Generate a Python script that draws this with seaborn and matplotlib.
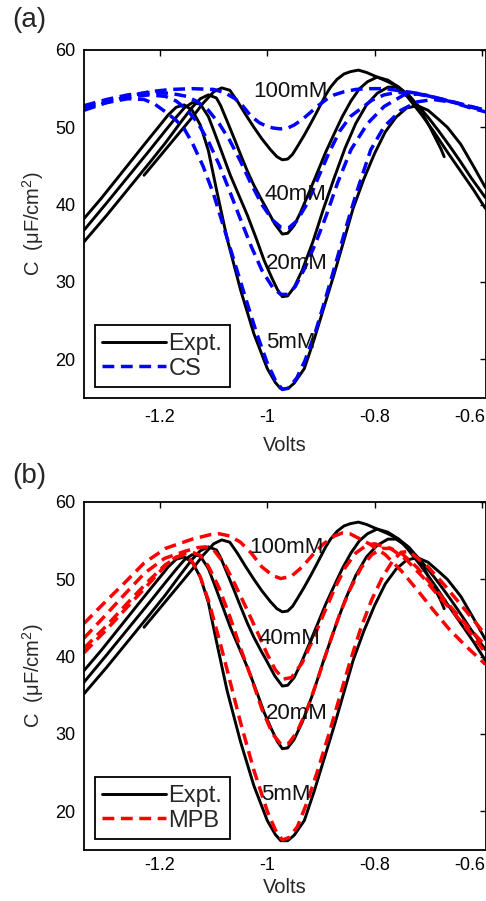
import matplotlib
matplotlib.use("Agg")
import matplotlib.pyplot as plt
import matplotlib.transforms as mtransforms
import seaborn as sns
from matplotlib.lines import Line2D

sns.set_theme(style="white")
plt.rcParams["font.family"] = ["Liberation Sans", "DejaVu Sans"]
plt.rcParams["mathtext.default"] = "regular"

# ---------------- data ----------------
# Experimental curves (same in both panels)
EXPT_5_V = [-1.342, -1.31, -1.28, -1.25, -1.22, -1.20, -1.185, -1.17, -1.155, -1.14, -1.125, -1.11,
            -1.095, -1.075, -1.05, -1.025, -1.0, -0.985, -0.975, -0.962, -0.95, -0.931, -0.913, -0.894,
            -0.875, -0.857, -0.84, -0.82, -0.80, -0.78, -0.76, -0.74, -0.72, -0.70, -0.68, -0.664,
            -0.639, -0.614, -0.593]
EXPT_5_C = [38.2, 40.8, 43.4, 46.0, 48.6, 50.3, 51.6, 52.6, 52.9, 52.2, 50.3, 47.0,
            42.0, 35.6, 29.0, 23.3, 18.8, 17.0, 16.2, 16.2, 16.9, 18.8, 22.5, 26.8,
            31.1, 35.4, 39.5, 43.3, 46.6, 49.4, 51.3, 52.5, 52.8, 52.2, 51.0, 50.0,
            47.8, 44.8, 42.2]

EXPT_20_V = [-1.342, -1.30, -1.26, -1.22, -1.19, -1.17, -1.155, -1.14, -1.125, -1.11, -1.10, -1.085,
             -1.069, -1.053, -1.037, -1.02, -1.006, -0.992, -0.981, -0.972, -0.962, -0.95, -0.935,
             -0.915, -0.895, -0.875, -0.855, -0.835, -0.815, -0.795, -0.775, -0.76, -0.74, -0.72,
             -0.70, -0.68, -0.66, -0.64, -0.62, -0.593]
EXPT_20_C = [36.7, 40.2, 43.6, 47.0, 49.6, 51.3, 52.5, 53.2, 53.0, 51.4, 49.6, 46.8,
             43.8, 41.2, 38.6, 35.5, 32.8, 30.6, 29.0, 28.1, 28.2, 29.3, 31.5,
             35.2, 39.5, 43.5, 47.3, 50.5, 52.9, 54.4, 55.2, 55.2, 54.3, 52.9,
             51.3, 49.5, 47.6, 45.6, 43.5, 40.9]

EXPT_40_V = [-1.342, -1.30, -1.26, -1.22, -1.19, -1.16, -1.14, -1.125, -1.11, -1.095, -1.087, -1.075,
             -1.062, -1.05, -1.037, -1.025, -1.012, -1.0, -0.986, -0.972, -0.962, -0.95, -0.938,
             -0.922, -0.907, -0.891, -0.875, -0.86, -0.844, -0.828, -0.813, -0.795, -0.775, -0.755,
             -0.738, -0.713, -0.688, -0.664, -0.639, -0.616, -0.593]
EXPT_40_C = [35.2, 38.6, 42.0, 45.4, 48.0, 50.8, 52.6, 53.7, 54.2, 53.8, 52.8, 50.8,
             48.6, 46.5, 44.3, 42.5, 40.8, 39.3, 37.5, 36.2, 36.3, 37.3, 39.0,
             41.6, 44.1, 46.8, 49.2, 51.4, 53.4, 55.0, 55.9, 56.5, 56.1, 55.2,
             53.9, 51.7, 49.3, 46.8, 44.3, 42.0, 39.5]

EXPT_100_V = [-1.23, -1.20, -1.17, -1.14, -1.12, -1.10, -1.085, -1.07, -1.056, -1.04, -1.025, -1.01,
              -0.994, -0.982, -0.972, -0.962, -0.953, -0.944, -0.931, -0.919, -0.909, -0.9, -0.891,
              -0.882, -0.87, -0.857, -0.845, -0.83, -0.815, -0.795, -0.775, -0.755, -0.735, -0.715,
              -0.695, -0.676, -0.67]
EXPT_100_C = [43.8, 46.3, 48.8, 51.3, 53.1, 54.6, 55.1, 54.8, 53.4, 51.6, 50.0, 48.5,
              47.1, 46.2, 45.8, 45.9, 46.5, 47.5, 49.0, 50.5, 51.8, 53.0, 54.2,
              55.2, 56.2, 56.9, 57.2, 57.4, 57.1, 56.5, 55.9, 55.2, 54.1, 52.4,
              49.8, 47.2, 46.2]

# CS model curves (panel a)
CS_5_V = [-1.342, -1.30, -1.26, -1.23, -1.21, -1.19, -1.17, -1.155, -1.14, -1.12, -1.10, -1.08,
          -1.06, -1.04, -1.02, -1.0, -0.985, -0.972, -0.96, -0.945, -0.93, -0.91, -0.89, -0.87,
          -0.85, -0.832, -0.807, -0.782, -0.751, -0.72, -0.69, -0.65, -0.62, -0.593]
CS_5_C = [52.4, 53.2, 53.7, 53.6, 53.0, 52.0, 50.9, 49.8, 48.0, 45.0, 41.3, 36.8,
          32.3, 27.8, 23.4, 19.5, 17.3, 16.1, 16.3, 17.6, 19.8, 23.6, 28.2, 33.0,
          37.8, 41.9, 47.1, 50.1, 52.2, 53.3, 53.6, 53.2, 52.6, 52.2]

CS_20_V = [-1.342, -1.30, -1.26, -1.22, -1.19, -1.17, -1.15, -1.13, -1.11, -1.09, -1.07, -1.05,
           -1.03, -1.01, -0.99, -0.975, -0.962, -0.948, -0.93, -0.91, -0.89, -0.869, -0.844,
           -0.813, -0.782, -0.745, -0.72, -0.69, -0.65, -0.61, -0.593]
CS_20_C = [52.6, 53.4, 53.9, 54.2, 54.0, 53.4, 52.3, 50.6, 48.2, 45.2, 41.7, 38.1,
           34.6, 31.5, 29.3, 28.4, 28.4, 29.4, 31.8, 35.0, 38.6, 42.8, 47.1,
           50.5, 52.7, 54.2, 54.3, 53.9, 53.2, 52.5, 52.2]

CS_40_V = [-1.342, -1.30, -1.26, -1.22, -1.18, -1.15, -1.13, -1.11, -1.09, -1.07, -1.05, -1.031,
           -1.01, -0.99, -0.975, -0.96, -0.945, -0.925, -0.905, -0.885, -0.865, -0.845, -0.826,
           -0.805, -0.782, -0.76, -0.73, -0.70, -0.66, -0.62, -0.593]
CS_40_C = [52.8, 53.6, 54.2, 54.5, 54.4, 54.0, 53.3, 52.2, 50.5, 48.3, 45.6, 42.8,
           40.0, 38.0, 37.1, 37.0, 37.9, 40.2, 43.5, 46.7, 49.5, 51.4, 52.4,
           53.5, 54.2, 54.5, 54.5, 54.1, 53.4, 52.7, 52.2]

CS_100_V = [-1.342, -1.30, -1.26, -1.22, -1.18, -1.14, -1.10, -1.08, -1.06, -1.045, -1.031, -1.015,
            -1.0, -0.988, -0.975, -0.962, -0.95, -0.935, -0.92, -0.907, -0.89, -0.875, -0.857,
            -0.835, -0.81, -0.78, -0.75, -0.72, -0.69, -0.657, -0.625, -0.593]
CS_100_C = [52.2, 53.2, 54.0, 54.6, 54.9, 55.0, 54.9, 54.5, 53.7, 52.7, 51.5, 50.6,
            50.1, 49.9, 49.8, 49.9, 50.3, 51.0, 51.9, 52.7, 53.6, 54.2, 54.6,
            54.9, 55.0, 55.0, 54.7, 54.4, 53.9, 53.3, 52.6, 52.0]

# MPB model curves (panel b)
MPB_5_V = [-1.342, -1.30, -1.26, -1.22, -1.19, -1.17, -1.155, -1.14, -1.125, -1.11, -1.09, -1.075,
           -1.05, -1.025, -1.0, -0.985, -0.972, -0.96, -0.944, -0.925, -0.905, -0.885, -0.865,
           -0.845, -0.825, -0.805, -0.785, -0.765, -0.75, -0.735, -0.70, -0.67, -0.64, -0.61, -0.593]
MPB_5_C = [40.5, 43.5, 46.5, 49.5, 51.8, 52.9, 53.1, 52.3, 50.3, 47.3, 42.3, 38.3,
           31.5, 25.3, 20.0, 17.6, 16.3, 16.6, 18.0, 21.3, 25.5, 30.0, 34.8,
           39.5, 43.8, 47.4, 50.3, 52.5, 53.5, 53.6, 51.6, 49.3, 46.8, 44.3, 42.8]

MPB_20_V = [-1.342, -1.30, -1.26, -1.22, -1.19, -1.16, -1.14, -1.125, -1.11, -1.09, -1.07, -1.05,
            -1.03, -1.01, -0.99, -0.975, -0.96, -0.945, -0.925, -0.905, -0.885, -0.865, -0.845,
            -0.825, -0.805, -0.785, -0.77, -0.75, -0.72, -0.69, -0.66, -0.63, -0.593]
MPB_20_C = [41.1, 44.0, 47.0, 49.9, 51.9, 53.2, 53.5, 53.1, 51.7, 48.9, 45.2, 41.1,
            37.3, 33.2, 30.0, 28.7, 28.8, 30.2, 33.3, 37.3, 41.5, 45.5, 48.8,
            51.5, 53.2, 54.0, 54.0, 53.4, 51.5, 49.0, 46.6, 44.2, 41.4]

MPB_40_V = [-1.342, -1.304, -1.267, -1.229, -1.192, -1.155, -1.13, -1.115, -1.10, -1.08, -1.06, -1.04,
            -1.02, -1.0, -0.985, -0.97, -0.955, -0.935, -0.915, -0.895, -0.875, -0.855, -0.835,
            -0.815, -0.80, -0.77, -0.74, -0.71, -0.68, -0.65, -0.62, -0.593]
MPB_40_C = [42.4, 45.2, 48.0, 50.8, 52.7, 53.6, 54.1, 54.2, 53.8, 52.0, 49.3, 46.4,
            43.4, 40.3, 38.3, 37.1, 37.3, 39.2, 42.2, 45.5, 48.7, 51.5, 53.4,
            54.4, 54.6, 54.0, 52.5, 50.3, 47.8, 45.5, 43.0, 40.5]

MPB_100_V = [-1.342, -1.305, -1.267, -1.23, -1.19, -1.14, -1.105, -1.09, -1.07, -1.05, -1.03, -1.01,
             -0.99, -0.975, -0.955, -0.935, -0.915, -0.895, -0.875, -0.86, -0.846, -0.81, -0.78,
             -0.75, -0.72, -0.69, -0.66, -0.63, -0.593]
MPB_100_C = [44.3, 46.9, 49.5, 52.1, 54.0, 55.2, 55.8, 55.9, 55.6, 54.8, 53.4, 51.6,
             50.5, 50.1, 50.4, 51.6, 53.2, 54.6, 55.6, 56.0, 55.9, 54.6, 53.2,
             51.1, 48.6, 46.0, 43.5, 41.4, 39.0]

CONC_LABELS = ["100mM", "40mM", "20mM", "5mM"]
LABEL_POS_A = [(-1.027, 54.6), (-1.006, 41.3), (-1.003, 32.4), (-1.003, 22.2)]
LABEL_POS_B = [(-1.034, 54.1), (-1.016, 42.3), (-1.003, 32.6), (-1.012, 22.2)]
X_TICKS = [-1.2, -1.0, -0.8, -0.6]
X_TICKLABELS = ["-1.2", "-1", "-0.8", "-0.6"]
Y_TICKS = [20, 30, 40, 50, 60]

EXPT = [(EXPT_5_V, EXPT_5_C), (EXPT_20_V, EXPT_20_C), (EXPT_40_V, EXPT_40_C), (EXPT_100_V, EXPT_100_C)]
CS = [(CS_5_V, CS_5_C), (CS_20_V, CS_20_C), (CS_40_V, CS_40_C), (CS_100_V, CS_100_C)]
MPB = [(MPB_5_V, MPB_5_C), (MPB_20_V, MPB_20_C), (MPB_40_V, MPB_40_C), (MPB_100_V, MPB_100_C)]

DASH = (0, (3.4, 1.9))
LW_EXPT = 2.1
LW_MODEL = 2.5

fig = plt.figure(figsize=(4.86, 9.01), dpi=100)
ax_a = fig.add_axes([84 / 486, 1 - 398 / 901, 402 / 486, 348 / 901])
ax_b = fig.add_axes([84 / 486, 1 - 850 / 901, 402 / 486, 348 / 901])


def panel(ax, model, color, model_name, label_pos, tag, tag_y, xpad, xlabelpad):
    for V, C in EXPT:
        sns.lineplot(x=V, y=C, ax=ax, color="black", lw=LW_EXPT, estimator=None,
                     sort=False, legend=False)
    for V, C in model:
        sns.lineplot(x=V, y=C, ax=ax, color=color, lw=LW_MODEL, linestyle=DASH,
                     estimator=None, sort=False, legend=False)
    for txt, (x, y) in zip(CONC_LABELS, label_pos):
        ax.text(x, y, txt, fontsize=16, ha="left", va="center", color="#111111")
    ax.set_xlim(-1.342, -0.592)
    ax.set_ylim(15, 60)
    ax.set_xticks(X_TICKS)
    ax.set_xticklabels(X_TICKLABELS)
    ax.set_yticks(Y_TICKS)
    ax.tick_params(direction="in", top=True, right=True, length=4, width=1.0,
                   labelsize=13, colors="black")
    ax.tick_params(axis="x", pad=xpad)
    ax.tick_params(axis="y", pad=6)
    # keep the last x tick label inside the figure like the reference
    last = ax.get_xticklabels()[-1]
    last.set_transform(last.get_transform() +
                       mtransforms.ScaledTranslation(-12 / 100, 0, fig.dpi_scale_trans))
    for s in ax.spines.values():
        s.set_color("black")
        s.set_linewidth(1.3)
    ax.set_xlabel("Volts", fontsize=14.5, labelpad=xlabelpad)
    ax.set_ylabel("C  (μF/cm$^2$)", fontsize=14.5, labelpad=7)
    handles = [Line2D([], [], color="black", lw=LW_EXPT),
               Line2D([], [], color=color, lw=LW_MODEL, linestyle=DASH)]
    leg = ax.legend(handles, ["Expt.", model_name], loc="lower left", fontsize=17,
                    frameon=True, fancybox=False, edgecolor="black", framealpha=1,
                    handlelength=2.7, handletextpad=0.1, borderpad=0.33,
                    labelspacing=0.1, borderaxespad=0.45)
    leg.get_frame().set_linewidth(1.3)
    fig.text(12 / 486, tag_y, tag, fontsize=20, ha="left", va="center")


panel(ax_a, CS, "#0000ff", "CS", LABEL_POS_A, "(a)", 1 - 20 / 901, 8, 7)
panel(ax_b, MPB, "#ff0000", "MPB", LABEL_POS_B, "(b)", 1 - 476 / 901, 5, 3)

fig.savefig("out.png", dpi=100)
